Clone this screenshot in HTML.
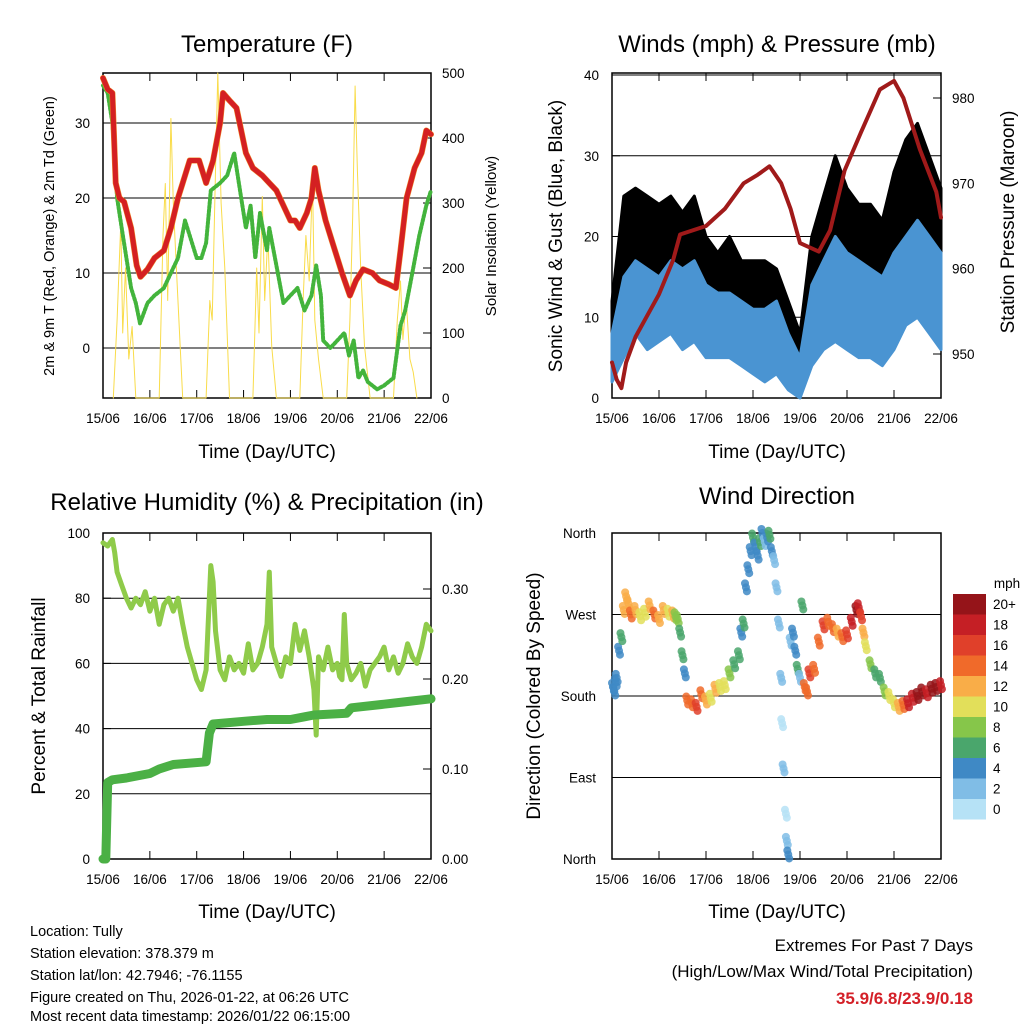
<!DOCTYPE html>
<html><head><meta charset="utf-8"><style>
body{margin:0;background:#fff;}
svg{font-family:"Liberation Sans",sans-serif;}
</style></head><body>
<svg id="s" width="1024" height="1024" viewBox="0 0 1024 1024">
<rect width="1024" height="1024" fill="#fff"/>
<g font-size="24" text-anchor="middle">
<text x="267" y="52">Temperature (F)</text>
<text x="777" y="52">Winds (mph) &amp; Pressure (mb)</text>
<text x="267" y="510">Relative Humidity (%) &amp; Precipitation (in)</text>
<text x="777" y="504">Wind Direction</text>
</g>
<g font-size="19" text-anchor="middle">
<text x="267" y="458">Time (Day/UTC)</text>
<text x="777" y="458">Time (Day/UTC)</text>
<text x="267" y="918">Time (Day/UTC)</text>
<text x="777" y="918">Time (Day/UTC)</text>
</g>
<text transform="translate(54,236) rotate(-90)" font-size="14.5" text-anchor="middle">2m &amp; 9m T (Red, Orange) &amp; 2m Td (Green)</text>
<text transform="translate(496,236) rotate(-90)" font-size="15" text-anchor="middle">Solar Insolation (Yellow)</text>
<text transform="translate(562,236) rotate(-90)" font-size="19" text-anchor="middle">Sonic Wind &amp; Gust (Blue, Black)</text>
<text transform="translate(1014,222) rotate(-90)" font-size="19" text-anchor="middle">Station Pressure (Maroon)</text>
<text transform="translate(45,696) rotate(-90)" font-size="19" text-anchor="middle">Percent &amp; Total Rainfall</text>
<text transform="translate(540,696) rotate(-90)" font-size="19" text-anchor="middle">Direction (Colored By Speed)</text>
<g font-size="14.5">
<text x="30" y="936">Location: Tully</text>
<text x="30" y="958">Station elevation: 378.379 m</text>
<text x="30" y="980">Station lat/lon: 42.7946; -76.1155</text>
<text x="30" y="1002">Figure created on Thu, 2026-01-22, at 06:26 UTC</text>
<text x="30" y="1024" dy="-3">Most recent data timestamp: 2026/01/22 06:15:00</text>
</g>
<g font-size="17" text-anchor="end">
<text x="973" y="951">Extremes For Past 7 Days</text>
<text x="973" y="977">(High/Low/Max Wind/Total Precipitation)</text>
<text x="973" y="1004" fill="#d42028" font-weight="bold">35.9/6.8/23.9/0.18</text>
</g>
</svg>
<script>
// ---------- data ----------
const dayLabels=["15/06","16/06","17/06","18/06","19/06","20/06","21/06","22/06"];
const tempT=[0,0.1,0.2,0.27,0.35,0.45,0.6,0.72,0.8,0.95,1.1,1.3,1.45,1.6,1.7,1.85,2.05,2.2,2.35,2.5,2.56,2.7,2.85,2.95,3.05,3.2,3.4,3.55,3.7,3.85,4.0,4.1,4.2,4.35,4.45,4.52,4.6,4.75,4.9,5.1,5.27,5.4,5.55,5.75,5.9,6.1,6.25,6.35,6.48,6.65,6.8,6.9,7];
const tempV=[36,34.5,34,22,20,19.5,16,11,9.5,10.5,12,13,16,20,22,25,25,22,25,30,34,33,32,29,26,24,23,22,21,19,17,17,16,18,20,24,21,17,14,10,7,9,10.5,10,9,8.5,8,13,20,24,26,29,28.5];
const dewT=[0,0.1,0.2,0.3,0.4,0.5,0.6,0.7,0.79,0.95,1.1,1.3,1.45,1.6,1.75,1.85,2.0,2.1,2.2,2.3,2.5,2.65,2.8,2.95,3.05,3.15,3.25,3.35,3.5,3.55,3.7,3.85,4.0,4.15,4.3,4.45,4.55,4.65,4.7,4.85,5.0,5.15,5.25,5.35,5.45,5.55,5.65,5.85,6.0,6.2,6.35,6.45,6.6,6.75,6.9,7];
const dewV=[35,34,30,20,16,12,8,6,3.3,6,7,8,10,12,17,15,12,12,14,21,22,23,26,20,16,19,12,18,13,16,11,6,7,8,5,7,11,7,1,0,1,2,-1,1,-4,-3,-4.5,-5.5,-5,-4,3,5,10,15,19,21];
const solarT=[0.22,0.3,0.38,0.42,0.48,0.55,0.62,0.7,1.2,1.28,1.33,1.38,1.45,1.5,1.58,1.7,2.2,2.28,2.33,2.4,2.45,2.52,2.6,2.7,3.2,3.28,3.33,3.4,3.45,3.52,3.6,3.7,4.2,4.27,4.33,4.4,4.47,4.52,4.6,4.7,5.2,5.27,5.33,5.38,5.43,5.5,5.58,5.7,6.2,6.28,6.35,6.4,6.47,6.55,6.62,6.7];
const solarV=[0,120,270,100,200,60,110,0,0,250,330,150,430,300,180,0,0,150,120,350,500,300,200,0,0,200,100,310,150,250,80,0,0,150,250,180,335,120,60,0,0,120,280,480,350,200,80,0,0,120,180,90,150,60,40,0];
const windT=[0,0.25,0.5,0.75,1,1.25,1.5,1.75,2,2.25,2.5,2.75,3,3.25,3.5,3.75,4,4.25,4.5,4.75,5,5.25,5.5,5.75,6,6.25,6.5,6.75,7];
const windLo=[2,5,8,6,7,8,6,7,5,5,5,4,3,2,3,1,0,4,6,7,6,5,5,4,6,9,10,8,6];
const windHi=[8,15,17,16,15,17,16,17,14,13,13,12,11,11,12,8,5,14,17,20,18,17,16,15,18,20,22,20,18];
const gustLo=[4,10,13,12,12,13,12,12,10,9,9,8,7,5,6,3,2,8,12,13,12,10,10,10,12,16,18,16,12];
const gustHi=[12,25,26,25,24,25,23,25,20,18,20,17,17,17,16,12,8,20,25,30,26,24,24,22,28,32,34,30,26];
const presT=[0,0.1,0.2,0.3,0.5,0.8,1.0,1.3,1.45,2.0,2.4,2.8,3.1,3.35,3.6,3.8,4.0,4.2,4.4,4.64,4.95,5.3,5.7,6.0,6.2,6.55,6.9,7];
const presV=[949,947,946,949,952,955,957,961,964,965,967,970,971,972,970,967,963,962.5,962,964.5,971.5,976,981,982,980,974,969,966];
const rhT=[0,0.1,0.2,0.25,0.3,0.4,0.5,0.6,0.7,0.8,0.9,1.0,1.1,1.2,1.3,1.4,1.5,1.6,1.7,1.8,1.9,2.0,2.1,2.2,2.3,2.35,2.4,2.5,2.6,2.7,2.8,2.9,3.0,3.1,3.2,3.3,3.4,3.5,3.55,3.6,3.7,3.8,3.9,4.0,4.1,4.2,4.3,4.4,4.5,4.55,4.6,4.7,4.8,4.9,5.0,5.05,5.1,5.15,5.2,5.3,5.4,5.5,5.6,5.7,5.8,5.9,6.0,6.1,6.2,6.3,6.4,6.5,6.6,6.7,6.8,6.9,7];
const rhV=[97,96,98,94,88,84,80,77,80,78,82,76,80,72,78,80,76,80,72,65,60,55,52,58,90,85,70,58,55,62,58,60,57,66,58,60,65,72,88,65,60,56,62,60,72,64,70,62,52,38,62,58,65,58,60,56,55,75,60,55,57,60,53,58,60,62,65,58,62,57,60,66,62,60,65,72,70];
const rainT=[0,0.06,0.1,0.2,0.5,1,1.2,1.5,2.2,2.27,2.35,3.0,3.5,4.0,4.3,4.5,5.2,5.3,6.0,6.5,7];
const rainV=[0,0,0.085,0.088,0.09,0.095,0.1,0.105,0.108,0.14,0.15,0.153,0.155,0.155,0.158,0.16,0.162,0.168,0.172,0.175,0.178];
const dirT=[0.02,0.05,0.08,0.1,0.15,0.2,0.25,0.3,0.35,0.4,0.5,0.6,0.7,0.8,0.9,1.0,1.1,1.2,1.3,1.35,1.4,1.45,1.5,1.55,1.6,1.7,1.8,1.9,2.0,2.1,2.2,2.3,2.4,2.5,2.6,2.7,2.75,2.8,2.85,2.9,2.95,3.0,3.05,3.1,3.15,3.2,3.25,3.3,3.35,3.4,3.45,3.5,3.55,3.6,3.62,3.65,3.7,3.72,3.75,3.8,3.85,3.9,3.95,4.0,4.05,4.1,4.15,4.2,4.3,4.4,4.5,4.6,4.7,4.8,4.9,5.0,5.1,5.2,5.25,5.3,5.35,5.4,5.5,5.6,5.7,5.8,5.9,6.0,6.1,6.2,6.3,6.4,6.5,6.6,6.7,6.8,6.9,7.0];
const dirV=[190,185,195,200,230,245,275,290,282,270,275,268,272,280,270,265,275,272,270,268,265,250,225,205,175,172,168,182,175,178,188,190,192,205,215,225,250,260,300,320,340,355,345,335,350,360,350,355,358,340,330,300,260,200,150,100,50,20,5,240,250,230,210,200,280,190,185,205,210,240,258,262,255,250,245,248,262,275,278,268,250,235,215,205,200,185,180,172,168,170,172,178,180,185,183,188,190,192];
const dirS=[4,4,4,4,5,6,12,12,13,14,12,10,11,12,14,12,13,11,12,9,8,6,6,5,14,15,16,14,12,11,12,11,10,8,7,6,5,6,4,4,5,6,5,4,6,4,3,5,6,4,3,2,2,2,1,2,1,2,4,3,4,5,6,3,6,14,15,16,15,14,16,15,14,13,14,16,18,20,19,17,12,10,8,7,7,8,10,11,12,14,18,19,20,20,19,20,20,19];
const cbLabels=["0","2","4","6","8","10","12","14","16","18","20+"];
const cbColors=["#b6e2f6","#80bde6","#3f89c5","#4aa66c","#86c64a","#e2df5a","#f9ad48","#f06a2a","#e0402a","#c51f25","#951419"];

// ---------- helpers ----------
const NS="http://www.w3.org/2000/svg";
const svg=document.getElementById('s');
function mk(tag,attrs,parent){const e=document.createElementNS(NS,tag);for(const k in attrs)e.setAttribute(k,attrs[k]);(parent||svg).appendChild(e);return e;}
function panel(x0,y0,x1,y1){return {x0,y0,x1,y1,xs:t=>x0+(x1-x0)*t/7};}
function lin(d0,d1,p0,p1){return v=>p0+(v-d0)*(p1-p0)/(d1-d0);}
function pts(T,V,xs,ys){return T.map((t,i)=>xs(t).toFixed(1)+","+ys(V[i]).toFixed(1)).join(" ");}
function frame(P,name){
  const g=mk('g',{});
  
  
  mk('rect',{x:P.x0,y:P.y0,width:P.x1-P.x0,height:P.y1-P.y0,fill:'none',stroke:'#000','stroke-width':1.5},g);
  for(let d=0;d<=7;d++){
    const x=P.xs(d);
    if(d>0&&d<7){mk('line',{x1:x,y1:P.y1,x2:x,y2:P.y1-8,stroke:'#000'},g);mk('line',{x1:x,y1:P.y0,x2:x,y2:P.y0+8,stroke:'#000'},g);}
    const t=mk('text',{x:x,y:P.y1+25,'font-size':13.5,'text-anchor':'middle'},g);
    t.textContent=dayLabels[d];
    
    
  }
}
function yTicks(P,vals,ys,side,fmt,grid,name){
  vals.forEach(v=>{
    const y=ys(v);
    if(grid) mk('line',{x1:P.x0,y1:y,x2:P.x1,y2:y,stroke:'#000','stroke-width':1});
    if(side==='l') mk('line',{x1:P.x0,y1:y,x2:P.x0+8,y2:y,stroke:'#000'});
    else mk('line',{x1:P.x1,y1:y,x2:P.x1-8,y2:y,stroke:'#000'});
    const t=mk('text',{x:side==='l'?P.x0-13:P.x1+11,y:y+5,'font-size':13.5,'text-anchor':side==='l'?'end':'start'});
    t.textContent=fmt(v);
    
    
  });
}
function line(T,V,xs,ys,color,w,name,dash){
  const a={points:pts(T,V,xs,ys),fill:'none',stroke:color,'stroke-width':w,'stroke-linejoin':'round','stroke-linecap':'round'};
  if(dash)a['stroke-dasharray']=dash;
  const e=mk('polyline',a);
  
  
  return e;
}
function band(T,LO,HI,xs,ys,color,name){
  const up=T.map((t,i)=>xs(t).toFixed(1)+","+ys(HI[i]).toFixed(1));
  const dn=T.map((t,i)=>xs(t).toFixed(1)+","+ys(LO[i]).toFixed(1)).reverse();
  const e=mk('polygon',{points:up.concat(dn).join(" "),fill:color,stroke:color,'stroke-width':3,'stroke-linejoin':'round'});
  
  
}

// ---------- Panel 1: Temperature ----------
const P1=panel(103,73,431,398);
const y1=lin(0,30,348,123), ySol=lin(0,500,398,73);
frame(P1,'temperature');
yTicks(P1,[0,10,20,30],y1,'l',v=>v,true,'temp-y-tick-label');
yTicks(P1,[0,100,200,300,400,500],ySol,'r',v=>v,false,'solar-y-tick-label');
line(solarT,solarV,P1.xs,ySol,'#f9dc4a',1,'solar-line');
line(dewT,dewV,P1.xs,y1,'#43b43c',4,'dewpoint-line','2 2');
line(tempT,tempV,P1.xs,y1,'#f08a2a',6,'temp-9m-line');
line(tempT,tempV,P1.xs,y1,'#d42022',5,'temp-2m-line');

// ---------- Panel 2: Winds ----------
const P2=panel(612,73,941,398);
const y2=lin(0,40,398,75), yP=lin(950,980,354,98);
frame(P2,'winds');
mk('line',{x1:612,y1:75,x2:941,y2:75,stroke:'#000'});
yTicks(P2,[0,10,20,30,40],y2,'l',v=>v,true,'wind-y-tick-label');
yTicks(P2,[950,960,970,980],yP,'r',v=>v,false,'pressure-y-tick-label');
band(windT,gustLo,gustHi,P2.xs,y2,'#000','gust-band');
band(windT,windLo,windHi,P2.xs,y2,'#4a94d2','wind-band');
line(presT,presV,P2.xs,yP,'#a01a1a',4,'pressure-line');

// ---------- Panel 3: Humidity ----------
const P3=panel(103,533,431,859);
const y3=lin(0,100,859,533), yR=lin(0,0.3,859,589);
frame(P3,'humidity');
yTicks(P3,[0,20,40,60,80,100],y3,'l',v=>v,false,'rh-y-tick-label');
[20,40,60,80].forEach(v=>mk('line',{x1:P3.x0,y1:y3(v),x2:P3.x1,y2:y3(v),stroke:'#000'}));
yTicks(P3,[0,0.1,0.2,0.3],yR,'r',v=>v.toFixed(2),false,'rain-y-tick-label');
line(rhT,rhV,P3.xs,y3,'#8fcb4a',5,'rh-line');
line(rainT,rainV,P3.xs,yR,'#4bb045',9,'rain-line');

// ---------- Panel 4: Direction ----------
const P4=panel(612,533,941,859);
const y4=lin(0,360,859,533);
frame(P4,'direction');
const dirNames=["North","East","South","West","North"];
[0,90,180,270,360].forEach((v,i)=>{
  const y=y4(v);
  if(i>0&&i<4) mk('line',{x1:P4.x0,y1:y,x2:P4.x1,y2:y,stroke:'#000'});
  const t=mk('text',{x:P4.x0-16,y:y+5,'font-size':13.5,'text-anchor':'end'});
  t.textContent=dirNames[i];
  
  
});
function spColor(s){return cbColors[Math.min(10,Math.floor(s/2))];}
dirT.forEach((t,i)=>{
  if(dirV[i]===undefined||dirS[i]===undefined) return;
  [-0.02,0,0.02].forEach((o,j)=>{
    const c=mk('circle',{cx:P4.xs(t+o),cy:y4(dirV[i])+(j-1)*4,r:4,fill:spColor(dirS[i]),'fill-opacity':0.85});
    
    
  });
});
// colorbar
const cbT=mk('text',{x:1007,y:588,'font-size':13.5,'text-anchor':'middle'});
cbT.textContent="mph";


cbLabels.forEach((lab,i)=>{
  const y=594+(10-i)*20.5;
  const r=mk('rect',{x:953,y:y,width:33,height:20.5,fill:cbColors[i]});
  
  
  const t=mk('text',{x:993,y:y+15,'font-size':13.5});
  t.textContent=lab;
  
  
});
</script>
</body></html>
